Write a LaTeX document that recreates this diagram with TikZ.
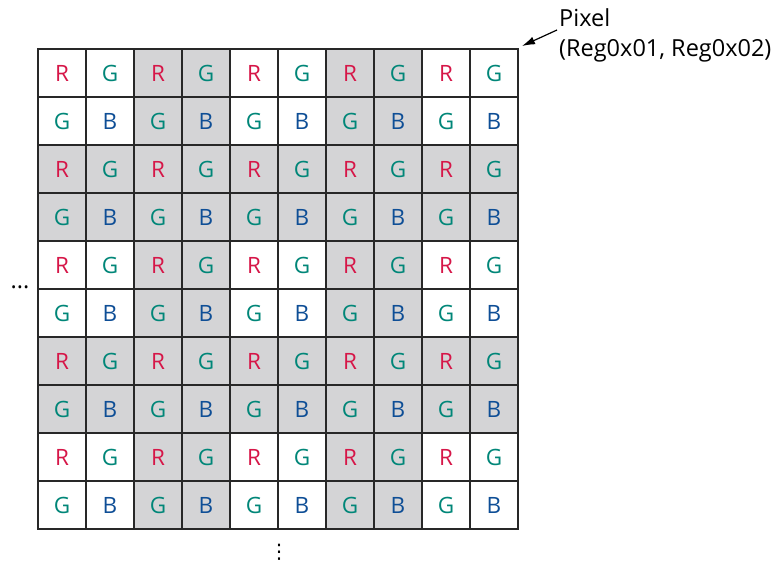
\documentclass[tikz,border=0pt]{standalone}
\usepackage{fontspec}
\setmainfont{Open Sans}
\newfontfamily\dejavu{DejaVu Sans}
\usetikzlibrary{arrows.meta}
\definecolor{cr}{RGB}{214,22,72}
\definecolor{cg}{RGB}{0,134,120}
\definecolor{cb}{RGB}{14,78,150}
\definecolor{cgray}{RGB}{212,212,214}
\definecolor{cline}{RGB}{40,40,40}
\tikzset{
  cell/.style={draw=cline, line width=1.1pt, minimum size=48pt, inner sep=0pt, outer sep=0pt, font=\fontsize{22.5}{24}\selectfont},
  lbl/.style={inner sep=0pt, font=\fontsize{23.5}{26}\selectfont},
  pointer/.style={-{Latex[length=13pt,width=8pt]}, line width=1.2pt, draw=black}
}
\begin{document}
\begin{tikzpicture}[x=1pt,y=-1pt]
\useasboundingbox (0,0) rectangle (779,565);
\foreach \i in {0,...,9} {
  \foreach \j in {0,...,9} {
    \pgfmathtruncatemacro\g{or(mod(\i,4)>1, mod(\j,4)>1)}
    \pgfmathtruncatemacro\k{mod(\j,2)*2+mod(\i,2)}
    \ifnum\g=1 \def\fc{cgray}\else\def\fc{white}\fi
    \node[cell, fill=\fc] (c-\i-\j) at (62+48*\i, 73+48*\j)
      {\ifcase\k\color{cr}R\or\color{cg}G\or\color{cg}G\or\color{cb}B\fi};
  }
}
\node[lbl, anchor=base west] (pix1) at (559,26) {Pixel};
\node[lbl, anchor=base west] (pix2) at (559,56) {(Reg0x01, Reg0x02)};
\coordinate (tail) at (557,30);
\draw[pointer] (tail) -- ([shift={(4,-3)}]c-9-0.north east);
\node[lbl, anchor=base] (hdots) at (20,288) {...};
\node[inner sep=0pt, font=\dejavu\fontsize{20}{24}\selectfont, anchor=center] (vdots) at (279,552) {⋮};
\end{tikzpicture}
\end{document}
